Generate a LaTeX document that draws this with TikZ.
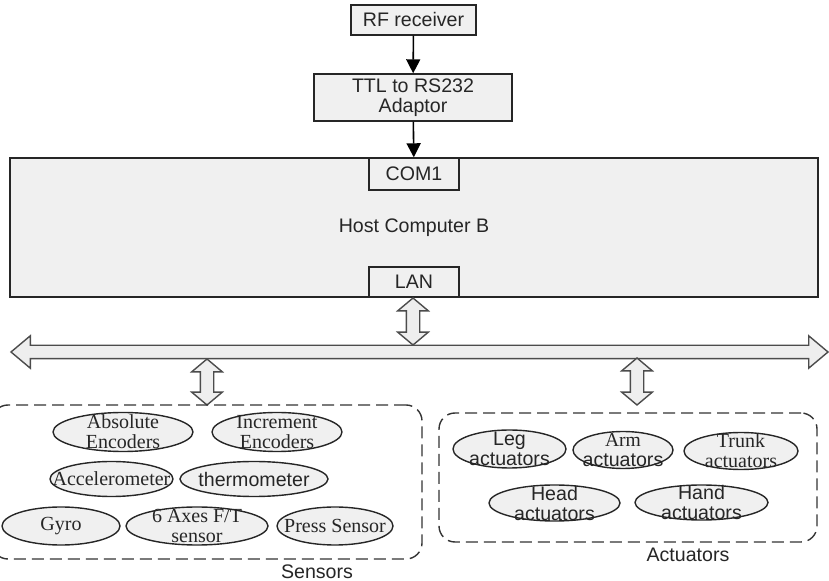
\documentclass[tikz,border=0pt]{standalone}
\usepackage{fontspec}
\setmainfont{Liberation Serif}
\setsansfont{Liberation Sans}
\usepackage{tikz}
\usetikzlibrary{arrows.meta,positioning,shapes.geometric,shapes.arrows}
\definecolor{boxgray}{HTML}{F0F0F0}
\definecolor{linkgray}{HTML}{EEEEEE}

\begin{document}
\begin{tikzpicture}[
    x=0.5pt,y=-0.5pt,
    >={Triangle[length=7pt,width=7pt]},
    every node/.style={font=\sffamily\fontsize{9.8}{10}\selectfont,text=black!85},
    box/.style={draw=black!85,line width=0.7pt,fill=boxgray,inner sep=0pt,align=center},
    port/.style={box,minimum width=45pt,minimum height=16pt},
    flow/.style={->,line width=0.8pt},
    link/.style={double arrow,draw=black!70,fill=linkgray,line width=0.7pt,inner sep=3pt,
      double arrow head extend=4.3pt,double arrow tip angle=100},
    group/.style={draw=black!80,line width=0.7pt,dash pattern=on 6pt off 3pt,
      rounded corners=8pt,inner sep=0pt},
    part/.style={ellipse,draw=black!85,line width=0.7pt,fill=boxgray,inner sep=0pt},
    ser/.style={font=\rmfamily\fontsize{10}{10}\selectfont,align=center},
    san/.style={align=center},
  ]
    \useasboundingbox (0,0) rectangle (829,581);

    % serial chain into the host
    \node[box,minimum width=62.5pt,minimum height=15pt] (rf) at (413.5,20) {RF receiver};
    \node[box,minimum width=99pt,minimum height=23.5pt] (ttl) at (413,97.5) {TTL to RS232\\Adaptor};
    \node[box,minimum width=404pt,minimum height=69.5pt] (host) at (414,227.5) {Host Computer B};
    \node[port,anchor=north] (com1) at (host.north) {COM1};
    \node[port,anchor=south,minimum height=15pt] (lan) at (host.south) {LAN};
    \draw[flow] (rf) -- (ttl);
    \draw[flow] (ttl) -- (com1);

    % bus and the links hanging off it
    \node[link,minimum height=408.5pt,double arrow head extend=4.75pt,
      double arrow tip angle=80] (bus) at (419.5,352) {};
    \node[link,rotate=90,minimum height=23.5pt] (lanlink) at (413,321.5) {};
    \node[link,rotate=90,minimum height=23pt] (senslink) at (207,382) {};
    \node[link,rotate=90,minimum height=23.5pt] (actlink) at (637,381.5) {};

    % sensors
    \node[group,minimum width=215pt,minimum height=77pt] (sensors) at (207,482) {};
    \node (senslabel) at (317,572) {Sensors};
    \node[part,minimum width=70pt,minimum height=19.5pt,
      label={[ser]center:Absolute\\Encoders}] (absenc) at (123,432) {};
    \node[part,minimum width=65pt,minimum height=19.5pt,
      label={[ser]center:Increment\\Encoders}] (incenc) at (277,432) {};
    \node[part,minimum width=61.5pt,minimum height=17.5pt,
      label={[ser]center:Accelerometer}] (accel) at (111.5,479) {};
    \node[part,minimum width=74pt,minimum height=17.5pt,
      label={[san]center:thermometer}] (thermo) at (254,479) {};
    \node[part,minimum width=59pt,minimum height=19pt,
      label={[ser]center:Gyro}] (gyro) at (61,526) {};
    \node[part,minimum width=71pt,minimum height=19pt,
      label={[ser]center:6 Axes F/T\\sensor}] (ftsensor) at (197,526) {};
    \node[part,minimum width=58pt,minimum height=19pt,
      label={[ser]center:Press Sensor}] (press) at (335,526) {};

    % actuators
    \node[group,minimum width=189pt,minimum height=64.5pt] (actuators) at (628,477.5) {};
    \node (actlabel) at (688,555) {Actuators};
    \node[part,minimum width=56.5pt,minimum height=19pt,
      label={[san]center:Leg\\actuators}] (leg) at (509.5,449) {};
    \node[part,minimum width=50pt,minimum height=18.5pt,
      label={[san]center:{\rmfamily Arm}\\actuators}] (arm) at (623,450) {};
    \node[part,minimum width=57pt,minimum height=18.5pt,
      label={[ser]center:Trunk\\actuators}] (trunk) at (741,451) {};
    \node[part,minimum width=65.5pt,minimum height=18pt,
      label={[san]center:Head\\actuators}] (head) at (554.5,503) {};
    \node[part,minimum width=66.5pt,minimum height=17.5pt,
      label={[san]center:Hand\\actuators}] (hand) at (701.5,502.5) {};
\end{tikzpicture}
\end{document}
